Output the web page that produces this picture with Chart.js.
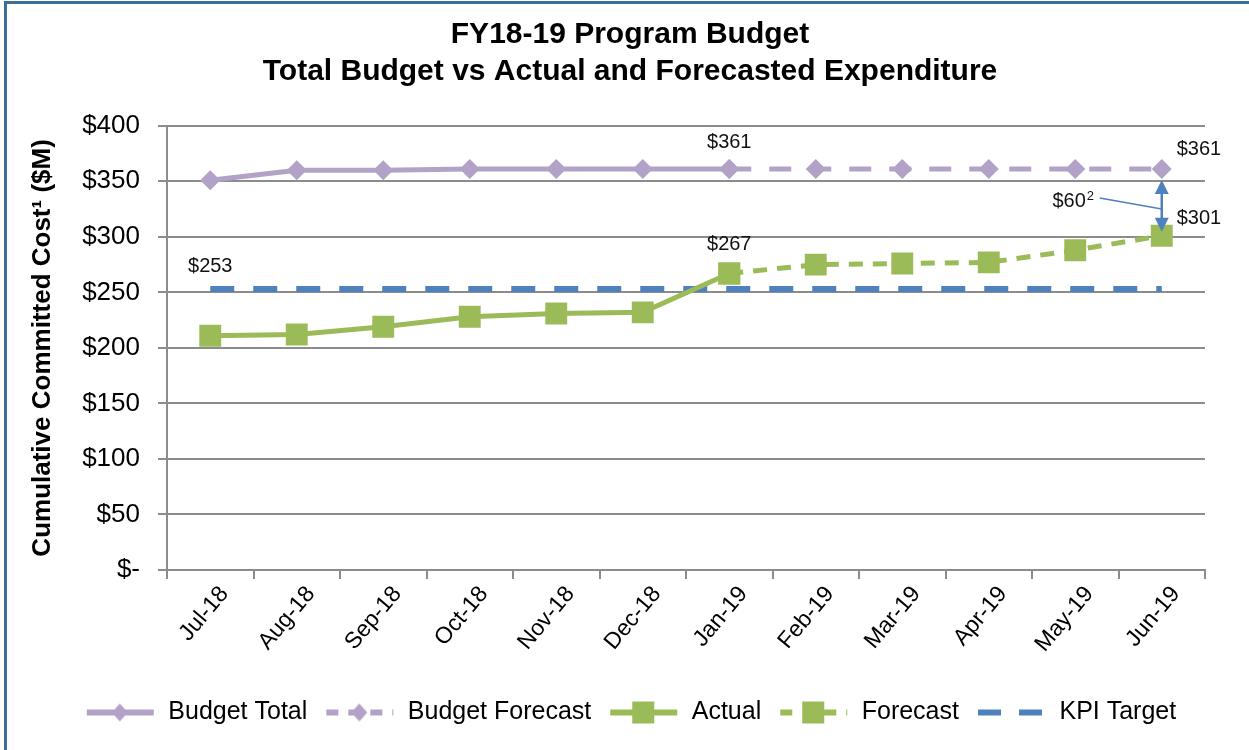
<!DOCTYPE html>
<html>
<head>
<meta charset="utf-8">
<script src="https://cdn.jsdelivr.net/npm/chart.js@4/dist/chart.umd.min.js"></script>
<style>
  html, body { margin: 0; padding: 0; background: #fff; }
  #wrap { position: relative; width: 1249px; height: 750px; }
</style>
</head>
<body>
<div id="wrap"><canvas id="chart" width="1249" height="750"></canvas></div>
<script>
// categories and series
const months = ['Jul-18', 'Aug-18', 'Sep-18', 'Oct-18', 'Nov-18', 'Dec-18',
                'Jan-19', 'Feb-19', 'Mar-19', 'Apr-19', 'May-19', 'Jun-19'];
const budgetTotal    = [351, 360, 360, 361, 361, 361, 361, null, null, null, null, null];
const budgetForecast = [null, null, null, null, null, null, 361, 361, 361, 361, 361, 361];
const actual         = [211, 212, 219, 228, 231, 232, 267, null, null, null, null, null];
const forecast       = [null, null, null, null, null, null, 267, 275, 276, 277, 288, 301];
const kpiTarget      = [253, 253, 253, 253, 253, 253, 253, 253, 253, 253, 253, 253];
const yTicks = [0, 50, 100, 150, 200, 250, 300, 350, 400];

const PURPLE = '#b3a2c7';
const GREEN = '#9bbb59';
const BLUE = '#4f81bd';
const FONT = '"Liberation Sans", Arial, sans-serif';

// small canvas used as legend symbol: line + marker
function legendSymbol(color, dash, marker) {
    const c = document.createElement('canvas');
    c.width = 72; c.height = 26;
    const g = c.getContext('2d');
    g.strokeStyle = color;
    g.lineWidth = 6;
    g.setLineDash(dash);
    g.beginPath();
    g.moveTo(3, 13); g.lineTo(70, 13);
    g.stroke();
    g.fillStyle = color;
    if (marker === 'diamond') {
        g.beginPath();
        g.moveTo(36, 4); g.lineTo(44, 13); g.lineTo(36, 22); g.lineTo(28, 13);
        g.closePath(); g.fill();
    } else if (marker === 'square') {
        g.fillRect(25, 2, 22, 22);
    }
    return c;
}

const symbols = [
    legendSymbol(PURPLE, [], 'diamond'),
    legendSymbol(PURPLE, [12, 10], 'diamond'),
    legendSymbol(GREEN, [], 'square'),
    legendSymbol(GREEN, [12, 10], 'square'),
    legendSymbol(BLUE, [23, 18], null)
];

// border lines and data annotations
const extras = {
    id: 'extras',
    beforeDraw(chart) {
        const ctx = chart.ctx;
        ctx.save();
        ctx.fillStyle = '#3e6d98';
        ctx.fillRect(4, 1, 3, 749);
        ctx.fillRect(4, 1, 1245, 3);
        ctx.restore();
    },
    afterDatasetsDraw(chart) {
        const ctx = chart.ctx;
        const x = chart.scales.x, y = chart.scales.y;
        const last = months.length - 1;
        const jan = 6;
        ctx.save();
        ctx.fillStyle = '#111';
        ctx.font = '20px ' + FONT;
        ctx.textBaseline = 'middle';
        ctx.textAlign = 'center';
        ctx.fillText('$' + kpiTarget[0], x.getPixelForValue(0), y.getPixelForValue(kpiTarget[0]) - 23);
        ctx.fillText('$' + budgetTotal[jan], x.getPixelForValue(jan), y.getPixelForValue(budgetTotal[jan]) - 27);
        ctx.fillText('$' + actual[jan], x.getPixelForValue(jan), y.getPixelForValue(actual[jan]) - 29);
        ctx.textAlign = 'left';
        const xl = x.getPixelForValue(last);
        ctx.fillText('$' + budgetForecast[last], xl + 15, y.getPixelForValue(budgetForecast[last]) - 20);
        ctx.fillText('$' + forecast[last], xl + 15, y.getPixelForValue(forecast[last]) - 17);

        // gap arrow
        const gap = budgetForecast[last] - forecast[last];
        const yTop = y.getPixelForValue(budgetForecast[last]) + 11;
        const yBot = y.getPixelForValue(forecast[last]) - 4;
        ctx.strokeStyle = BLUE;
        ctx.fillStyle = BLUE;
        ctx.lineWidth = 2.5;
        ctx.beginPath();
        ctx.moveTo(xl, yTop + 10); ctx.lineTo(xl, yBot - 10);
        ctx.stroke();
        ctx.beginPath();
        ctx.moveTo(xl, yTop); ctx.lineTo(xl - 7, yTop + 14); ctx.lineTo(xl + 7, yTop + 14);
        ctx.closePath(); ctx.fill();
        ctx.beginPath();
        ctx.moveTo(xl, yBot); ctx.lineTo(xl - 7, yBot - 14); ctx.lineTo(xl + 7, yBot - 14);
        ctx.closePath(); ctx.fill();
        const yMid = (yTop + yBot) / 2;
        ctx.lineWidth = 1.5;
        ctx.beginPath();
        ctx.moveTo(xl - 62, yMid - 8); ctx.lineTo(xl, yMid + 3);
        ctx.stroke();

        ctx.fillStyle = '#111';
        ctx.textAlign = 'right';
        ctx.font = '20px ' + FONT;
        ctx.fillText('$' + gap, xl - 76, yMid - 4);
        ctx.textAlign = 'left';
        ctx.font = '13px ' + FONT;
        ctx.fillText('2', xl - 75, yMid - 10);
        ctx.restore();
    }
};

new Chart(document.getElementById('chart'), {
    type: 'line',
    data: {
        labels: months,
        datasets: [{
            label: 'Budget Total',
            data: budgetTotal,
            borderColor: PURPLE,
            backgroundColor: PURPLE,
            borderWidth: 5,
            pointStyle: 'rectRot',
            pointRadius: 10,
            pointBorderWidth: 0,
        }, {
            label: 'Budget Forecast',
            data: budgetForecast,
            borderColor: PURPLE,
            backgroundColor: PURPLE,
            borderWidth: 5,
            borderDash: [22, 18],
            pointStyle: 'rectRot',
            pointRadius: 10,
            pointBorderWidth: 0,
        }, {
            label: 'Actual',
            data: actual,
            borderColor: GREEN,
            backgroundColor: GREEN,
            borderWidth: 5,
            pointStyle: 'rect',
            pointRadius: 15.5,
            pointBorderWidth: 0,
        }, {
            label: 'Forecast',
            data: forecast,
            borderColor: GREEN,
            backgroundColor: GREEN,
            borderWidth: 5,
            borderDash: [14, 10],
            pointStyle: 'rect',
            pointRadius: 15.5,
            pointBorderWidth: 0,
        }, {
            label: 'KPI Target',
            data: kpiTarget,
            borderColor: BLUE,
            backgroundColor: BLUE,
            borderWidth: 6,
            borderDash: [24, 19],
            pointRadius: 0,
        }],
    },
    options: {
        responsive: false,
        animation: false,
        events: [],
        layout: { padding: { top: 0, left: 55, right: 44, bottom: 15 } },
        plugins: {
            title: {
                display: true,
                text: ['FY18-19 Program Budget', 'Total Budget vs Actual and Forecasted Expenditure'],
                color: '#000',
                font: { family: FONT, size: 30, weight: 'bold', lineHeight: 1.23 },
                padding: { top: 16, bottom: 36 },
            },
            legend: {
                position: 'bottom',
                labels: {
                    usePointStyle: true,
                    pointStyleWidth: 72,
                    boxHeight: 22,
                    padding: 16,
                    color: '#000',
                    font: { family: FONT, size: 25 },
                    generateLabels(chart) {
                        return chart.data.datasets.map((ds, i) => ({
                            text: ds.label,
                            pointStyle: symbols[i],
                            fillStyle: ds.borderColor,
                            strokeStyle: ds.borderColor,
                            lineWidth: 0,
                            datasetIndex: i,
                            hidden: false,
                        }));
                    },
                },
            },
            tooltip: { enabled: false },
        },
        scales: {
            x: {
                offset: true,
                grid: {
                    offset: true,
                    drawOnChartArea: false,
                    drawTicks: true,
                    tickLength: 9,
                    color: '#8c8c8c',
                    lineWidth: 2,
                },
                border: { color: '#8c8c8c', width: 2 },
                ticks: {
                    color: '#000',
                    font: { family: FONT, size: 23 },
                    minRotation: 50,
                    maxRotation: 50,
                    labelOffset: 14,
                    padding: 2,
                },
                afterFit(scale) { scale.height = 114; },
            },
            y: {
                min: 0,
                max: 400,
                afterBuildTicks(scale) { scale.ticks = yTicks.map(v => ({ value: v })); },
                grid: {
                    color: '#8c8c8c',
                    lineWidth: 2,
                    tickLength: 9,
                },
                border: { color: '#8c8c8c', width: 2 },
                ticks: {
                    color: '#000',
                    font: { family: FONT, size: 26 },
                    padding: 18,
                    callback: v => v === 0 ? '$-' : '$' + v,
                },
                title: {
                    display: true,
                    text: 'Cumulative Committed Cost¹ ($M)',
                    color: '#000',
                    font: { family: FONT, size: 26, weight: 'bold' },
                    padding: { top: -28, bottom: 0 },
                },
                afterFit(scale) { scale.width = 112; },
            },
        },
    },
    plugins: [extras],
});
</script>
</body>
</html>
